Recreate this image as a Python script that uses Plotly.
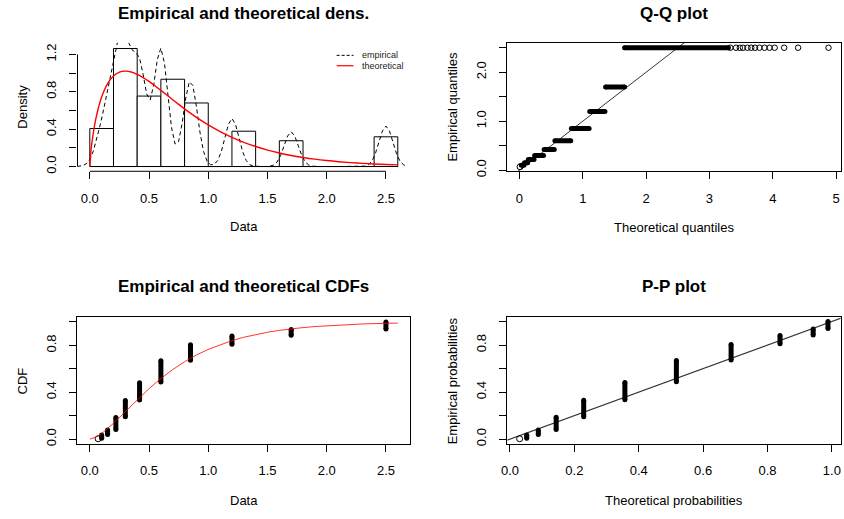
import plotly.graph_objects as go

# ---------------- data ----------------
# distinct observed values and the empirical CDF span of each group
values = [0.07, 0.10, 0.15, 0.22, 0.30, 0.42, 0.60, 0.85, 1.20, 1.70, 2.50]
ecdf_lo = [0.003, 0.008, 0.040, 0.082, 0.190, 0.335, 0.487, 0.673, 0.810, 0.886, 0.940]
ecdf_hi = [0.003, 0.035, 0.078, 0.185, 0.330, 0.482, 0.669, 0.805, 0.881, 0.936, 1.000]
# theoretical probabilities of each value (P-P plot x)
theo_prob = [0.030, 0.052, 0.088, 0.1435, 0.229, 0.357, 0.517, 0.687, 0.839, 0.942, 0.988]
# theoretical quantile span for each group (Q-Q plot x)
qq_lo = [0.01, 0.03, 0.08, 0.14, 0.24, 0.39, 0.56, 0.82, 1.11, 1.36, 1.66]
qq_hi = [0.01, 0.07, 0.13, 0.23, 0.38, 0.55, 0.81, 1.10, 1.35, 1.66, 3.30]
# isolated upper-tail points of the Q-Q plot (all at empirical 2.5)
qq_tail_x = [3.33, 3.42, 3.48, 3.53, 3.60, 3.66, 3.72, 3.79, 3.87, 3.95, 4.03, 4.18, 4.40, 4.88]
qq_tail_y = [2.5] * len(qq_tail_x)

# histogram
hist_breaks = [0.0, 0.2, 0.4, 0.6, 0.8, 1.0, 1.2, 1.4, 1.6, 1.8, 2.0, 2.2, 2.4, 2.6]
hist_density = [0.407, 1.263, 0.754, 0.934, 0.680, 0.0, 0.378, 0.0, 0.276, 0.0, 0.0, 0.0, 0.318]

# empirical (kernel) density curve
kde_x = [-0.107, -0.09, -0.06, -0.03, 0.0, 0.03, 0.06, 0.09, 0.12, 0.15, 0.18, 0.21, 0.24, 0.27,
         0.30, 0.33, 0.36, 0.39, 0.42, 0.45, 0.48, 0.51, 0.54, 0.57, 0.60, 0.63, 0.66, 0.69, 0.72,
         0.75, 0.78, 0.81, 0.84, 0.87, 0.90, 0.93, 0.96, 0.99, 1.02, 1.05, 1.08, 1.11, 1.14, 1.17,
         1.20, 1.23, 1.26, 1.29, 1.32, 1.35, 1.38, 1.41, 1.45, 1.49, 1.52, 1.55, 1.58, 1.61, 1.64,
         1.67, 1.70, 1.73, 1.76, 1.79, 1.82, 1.85, 1.88, 1.91, 1.95, 2.10, 2.25, 2.29, 2.32, 2.35,
         2.38, 2.41, 2.44, 2.47, 2.50, 2.53, 2.56, 2.59, 2.62, 2.65, 2.677]
kde_y = [0.001, 0.002, 0.009, 0.029, 0.076, 0.165, 0.297, 0.457, 0.631, 0.816, 1.014, 1.211, 1.369, 1.446,
         1.417, 1.319, 1.244, 1.221, 1.160, 0.987, 0.776, 0.712, 0.878, 1.145, 1.267, 1.108, 0.755, 0.416, 0.240,
         0.269, 0.467, 0.733, 0.907, 0.868, 0.642, 0.367, 0.162, 0.056, 0.019, 0.023, 0.065, 0.160, 0.306, 0.452,
         0.514, 0.452, 0.306, 0.160, 0.065, 0.020, 0.005, 0.001, 0.0, 0.0007, 0.0035, 0.0147, 0.0469, 0.116, 0.222,
         0.327, 0.372, 0.327, 0.222, 0.116, 0.0469, 0.0147, 0.0035, 0.0007, 0.0, 0.0, 0.0001, 0.0008, 0.0041, 0.0171,
         0.0545, 0.135, 0.258, 0.380, 0.433, 0.380, 0.258, 0.135, 0.0545, 0.0171, 0.0048]

# theoretical density curve
dens_x = [0.0, 0.01, 0.02, 0.035, 0.05, 0.075, 0.1, 0.15, 0.2, 0.25, 0.3, 0.35, 0.4, 0.45, 0.5, 0.55,
          0.6, 0.65, 0.7, 0.75, 0.8, 0.85, 0.9, 0.95, 1.0, 1.1, 1.2, 1.3, 1.4, 1.5, 1.6, 1.7, 1.8, 1.9,
          2.0, 2.1, 2.2, 2.3, 2.4, 2.5, 2.6]
dens_y = [0.0, 0.171, 0.277, 0.403, 0.505, 0.640, 0.744, 0.886, 0.968, 1.010, 1.021, 1.012, 0.987, 0.952,
          0.911, 0.864, 0.815, 0.765, 0.714, 0.665, 0.617, 0.571, 0.526, 0.485, 0.445, 0.374, 0.312, 0.259,
          0.214, 0.176, 0.145, 0.118, 0.0966, 0.0787, 0.064, 0.0519, 0.042, 0.034, 0.0274, 0.0222, 0.0178]

# theoretical CDF curve
tcdf_x = [0.0, 0.05, 0.1, 0.2, 0.3, 0.4, 0.5, 0.6, 0.7, 0.8, 0.9, 1.0, 1.1, 1.2, 1.3, 1.4, 1.5, 1.6,
          1.7, 1.8, 1.9, 2.0, 2.1, 2.2, 2.3, 2.4, 2.5, 2.6]
tcdf_y = [0.0, 0.016, 0.047, 0.135, 0.235, 0.336, 0.431, 0.5175, 0.594, 0.6605, 0.718, 0.766, 0.807, 0.841,
          0.8695, 0.893, 0.9125, 0.9285, 0.9416, 0.952, 0.961, 0.968, 0.974, 0.979, 0.983, 0.986, 0.9885, 0.9905]

# axis ticks
hist_xticks = [0.0, 0.5, 1.0, 1.5, 2.0, 2.5]
hist_xlabels = ["0.0", "0.5", "1.0", "1.5", "2.0", "2.5"]
dens_yticks = [0.0, 0.2, 0.4, 0.6, 0.8, 1.0, 1.2]
dens_ylabels = ["0.0", "", "0.4", "", "0.8", "", "1.2"]
qq_xticks = [0, 1, 2, 3, 4, 5]
qq_xlabels = ["0", "1", "2", "3", "4", "5"]
qq_yticks = [0.0, 0.5, 1.0, 1.5, 2.0, 2.5]
qq_ylabels = ["0.0", "", "1.0", "", "2.0", ""]
prob_ticks = [0.0, 0.2, 0.4, 0.6, 0.8, 1.0]
prob_ylabels = ["0.0", "", "0.4", "", "0.8", ""]
prob_xlabels = ["0.0", "0.2", "0.4", "0.6", "0.8", "1.0"]

# axis ranges (R style 4% extension)
x1_range = [-0.104, 2.704]; y1_range = [-0.051, 1.324]
x2_range = [-0.19, 5.07];   y2_range = [-0.027, 2.597]
x3_range = [-0.104, 2.704]; y3_range = [-0.04, 1.04]
x4_range = [-0.008, 1.027]; y4_range = [-0.04, 1.04]

# ---------------- figure ----------------
W, H = 844, 519
FONT = "Liberation Sans, Arial, sans-serif"


def fx(p):
    return p / W


def fy(p):
    return 1 - p / H


fig = go.Figure()

# --- panel 1: histogram + densities
fig.add_trace(go.Bar(
    x=hist_breaks[:-1], y=hist_density,
    width=[b - a for a, b in zip(hist_breaks[:-1], hist_breaks[1:])], offset=0,
    marker=dict(color="white", line=dict(color="black", width=1)),
    xaxis="x", yaxis="y", hoverinfo="skip"))
fig.add_trace(go.Scatter(x=[hist_breaks[0], hist_breaks[-1]], y=[0, 0], mode="lines",
                         line=dict(color="black", width=1), xaxis="x", yaxis="y"))
fig.add_trace(go.Scatter(x=kde_x, y=kde_y, mode="lines",
                         line=dict(color="black", width=1, dash="4px,3px"), xaxis="x", yaxis="y"))
fig.add_trace(go.Scatter(x=dens_x, y=dens_y, mode="lines", line_shape="spline",
                         line=dict(color="#ff0000", width=1.4), xaxis="x", yaxis="y"))


def group_traces(xlo, xhi, ylo, yhi, xa, ya):
    bx, by, ox, oy = [], [], [], []
    for a, b, c, d in zip(xlo, xhi, ylo, yhi):
        if a == b and c == d:
            ox.append(a); oy.append(c)
        else:
            bx += [a, b, None]; by += [c, d, None]
    fig.add_trace(go.Scatter(x=bx, y=by, mode="lines+markers",
                             line=dict(color="black", width=5),
                             marker=dict(size=5, color="black"),
                             xaxis=xa, yaxis=ya))
    fig.add_trace(go.Scatter(x=ox, y=oy, mode="markers",
                             marker=dict(size=6, symbol="circle-open", color="black",
                                         line=dict(width=1, color="black")),
                             xaxis=xa, yaxis=ya))


# --- panel 2: Q-Q plot
fig.add_trace(go.Scatter(x=[min(x2_range), max(x2_range)], y=[min(x2_range), max(x2_range)],
                         mode="lines", line=dict(color="#333333", width=1), xaxis="x2", yaxis="y2"))
group_traces(qq_lo, qq_hi, values, values, "x2", "y2")
fig.add_trace(go.Scatter(x=qq_tail_x, y=qq_tail_y, mode="markers",
                         marker=dict(size=5.5, symbol="circle-open", color="black",
                                     line=dict(width=1, color="black")),
                         xaxis="x2", yaxis="y2"))

# --- panel 3: CDFs
group_traces(values, values, ecdf_lo, ecdf_hi, "x3", "y3")
fig.add_trace(go.Scatter(x=tcdf_x, y=tcdf_y, mode="lines",
                         line=dict(color="rgba(255,0,0,0.8)", width=1), xaxis="x3", yaxis="y3"))

# --- panel 4: P-P plot
fig.add_trace(go.Scatter(x=[min(x4_range) - 0.05, max(x4_range) + 0.05],
                         y=[min(x4_range) - 0.05, max(x4_range) + 0.05],
                         mode="lines", line=dict(color="#333333", width=1.2), xaxis="x4", yaxis="y4"))
group_traces(theo_prob, theo_prob, ecdf_lo, ecdf_hi, "x4", "y4")

# ---------------- axes ----------------
tickfont = dict(family=FONT, size=13, color="black")


def xaxis(dom, rng, tv, tt, box):
    return dict(domain=dom, range=rng, tickvals=tv, ticktext=tt, ticks="outside", ticklen=7,
                tickcolor="black", tickwidth=1, showgrid=False, zeroline=False,
                showline=box, mirror=box, linecolor="black", linewidth=1,
                tickfont=tickfont, ticklabelstandoff=8, fixedrange=True)


def yaxis(dom, rng, tv, tt, box, anchor):
    return dict(domain=dom, range=rng, tickvals=tv, ticktext=tt, ticks="outside", ticklen=7,
                tickcolor="black", tickwidth=1, showgrid=False, zeroline=False,
                showline=box, mirror=box, linecolor="black", linewidth=1,
                tickfont=tickfont, tickangle=-90, ticklabelstandoff=8, anchor=anchor,
                fixedrange=True)


dx_left = [fx(72), fx(407)]
dx_right = [fx(505), fx(840.5)]
dy_top = [fy(173.3), fy(43.3)]
dy_top2 = [fy(173.5), fy(43.5)]
dy_bot = [fy(449), fy(321)]
dy_bot2 = [fy(449), fy(320.5)]

layout = dict(
    width=W, height=H, margin=dict(l=0, r=0, t=0, b=0),
    paper_bgcolor="white", plot_bgcolor="white", showlegend=False,
    font=dict(family=FONT, size=13, color="black"),
    xaxis=dict(xaxis(dx_left, x1_range, hist_xticks, hist_xlabels, False), anchor="y"),
    yaxis=yaxis(dy_top, y1_range, dens_yticks, dens_ylabels, False, "x"),
    xaxis2=dict(xaxis(dx_right, x2_range, qq_xticks, qq_xlabels, True), anchor="y2"),
    yaxis2=yaxis(dy_top2, y2_range, qq_yticks, qq_ylabels, True, "x2"),
    xaxis3=dict(xaxis(dx_left, x3_range, hist_xticks, hist_xlabels, True), anchor="y3"),
    yaxis3=yaxis(dy_bot, y3_range, prob_ticks, prob_ylabels, True, "x3"),
    xaxis4=dict(xaxis(dx_right, x4_range, prob_ticks, prob_xlabels, True), anchor="y4"),
    yaxis4=yaxis(dy_bot2, y4_range, prob_ticks, prob_ylabels, True, "x4"),
)
fig.update_layout(**layout)

# axis lines of the (un-boxed) histogram panel, spanning the tick range only
fig.add_shape(type="line", xref="x", yref="y domain", x0=hist_xticks[0], x1=hist_xticks[-1],
              y0=0, y1=0, line=dict(color="black", width=1))
fig.add_shape(type="line", xref="x domain", yref="y", x0=0, x1=0,
              y0=dens_yticks[0], y1=dens_yticks[-1], line=dict(color="black", width=1))

# legend of panel 1
fig.add_shape(type="line", xref="paper", yref="paper", x0=fx(333), x1=fx(350), y0=fy(56), y1=fy(56),
              line=dict(color="black", width=1, dash="3px,2px"))
fig.add_shape(type="line", xref="paper", yref="paper", x0=fx(333), x1=fx(350), y0=fy(66.5), y1=fy(66.5),
              line=dict(color="#ff0000", width=1.2))

annots = []


def txt(text, x, y, size=13, angle=0, xanchor="center", bold=False, color="black"):
    annots.append(dict(text=f"<b>{text}</b>" if bold else text, x=fx(x), y=fy(y),
                       xref="paper", yref="paper", showarrow=False, xanchor=xanchor,
                       yanchor="middle", textangle=angle,
                       font=dict(family=FONT, size=size, color=color)))


txt("empirical", 357, 56, size=9, xanchor="left", color="#222")
txt("theoretical", 357, 66.5, size=9, xanchor="left", color="#222")

# panel titles
txt("Empirical and theoretical dens.", 239.5, 14, size=17, bold=True)
txt("Q-Q plot", 672.7, 14, size=17, bold=True)
txt("Empirical and theoretical CDFs", 239.5, 290, size=17, bold=True)
txt("P-P plot", 672.7, 290, size=17, bold=True)

# axis titles
txt("Data", 239.5, 229.5)
txt("Theoretical quantiles", 672.7, 230)
txt("Data", 239.5, 506)
txt("Theoretical probabilities", 672.7, 506)
txt("Density", 17, 108, angle=-90)
txt("Empirical quantiles", 450, 108, angle=-90)
txt("CDF", 17, 385, angle=-90)
txt("Empirical probabilities", 450, 385, angle=-90)

fig.update_layout(annotations=annots)

fig.write_html("out.html")
